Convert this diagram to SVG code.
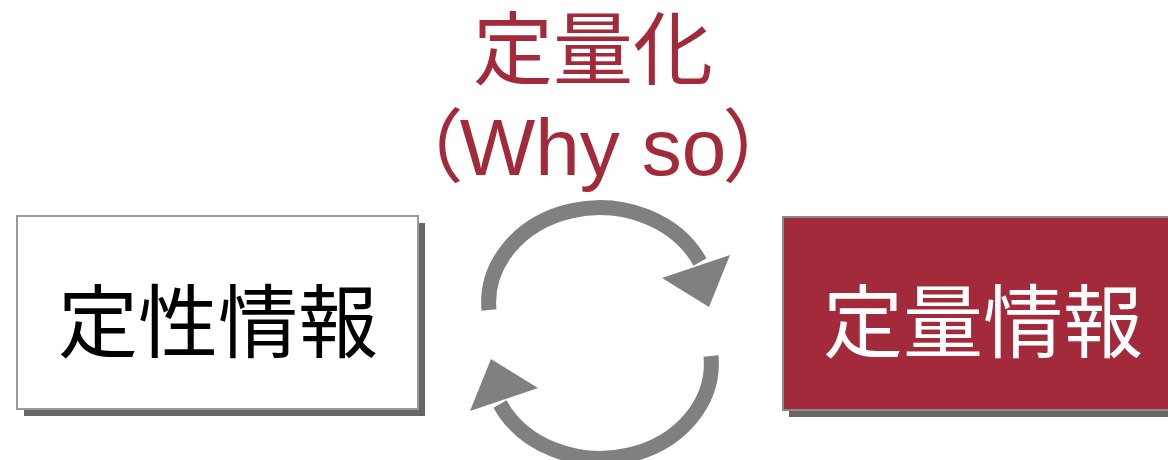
<svg xmlns="http://www.w3.org/2000/svg" width="1168" height="460" viewBox="0 0 1168 460">
<style>
.shadow{fill:#666666}
.cjk{font-family:"Noto Sans CJK JP","Noto Sans CJK SC",sans-serif;font-size:80px;text-anchor:middle}
.red{fill:#A32A3A}
.arc{fill:none;stroke:#808080;stroke-width:15}
.head{fill:#808080}
</style>
<rect width="1168" height="460" fill="#ffffff"/>
<g id="title">
<text class="cjk red" x="593" y="78">定量化</text>
<text class="red" x="593" y="175" text-anchor="middle" font-family="'Liberation Sans','Noto Sans CJK JP',sans-serif" font-size="80"><tspan>（</tspan><tspan dx="-4">Why so</tspan><tspan dx="-4">）</tspan></text>
</g>
<g id="node-qualitative">
<rect class="shadow" x="24" y="223" width="401" height="193"/>
<rect x="17" y="216" width="401" height="193" fill="#ffffff" stroke="#999999" stroke-width="2"/>
<text class="cjk" x="218" y="351" fill="#000000">定性情報</text>
</g>
<g id="node-quantitative">
<rect class="shadow" x="789" y="224" width="400" height="193"/>
<rect x="783" y="217" width="400" height="193" fill="#A32A3A" stroke="#8a8a8a" stroke-width="2"/>
<text class="cjk" x="983" y="351" fill="#ffffff">定量情報</text>
</g>
<g id="connectors">
<path class="arc" d="M489,310 A111,95 0 0 1 700,262"/>
<polygon class="head" points="662,278 730,255 709,307"/>
<path class="arc" d="M711,356 A111,95 0 0 1 500,404"/>
<polygon class="head" points="538,388 470,411 491,359"/>
</g>
</svg>
